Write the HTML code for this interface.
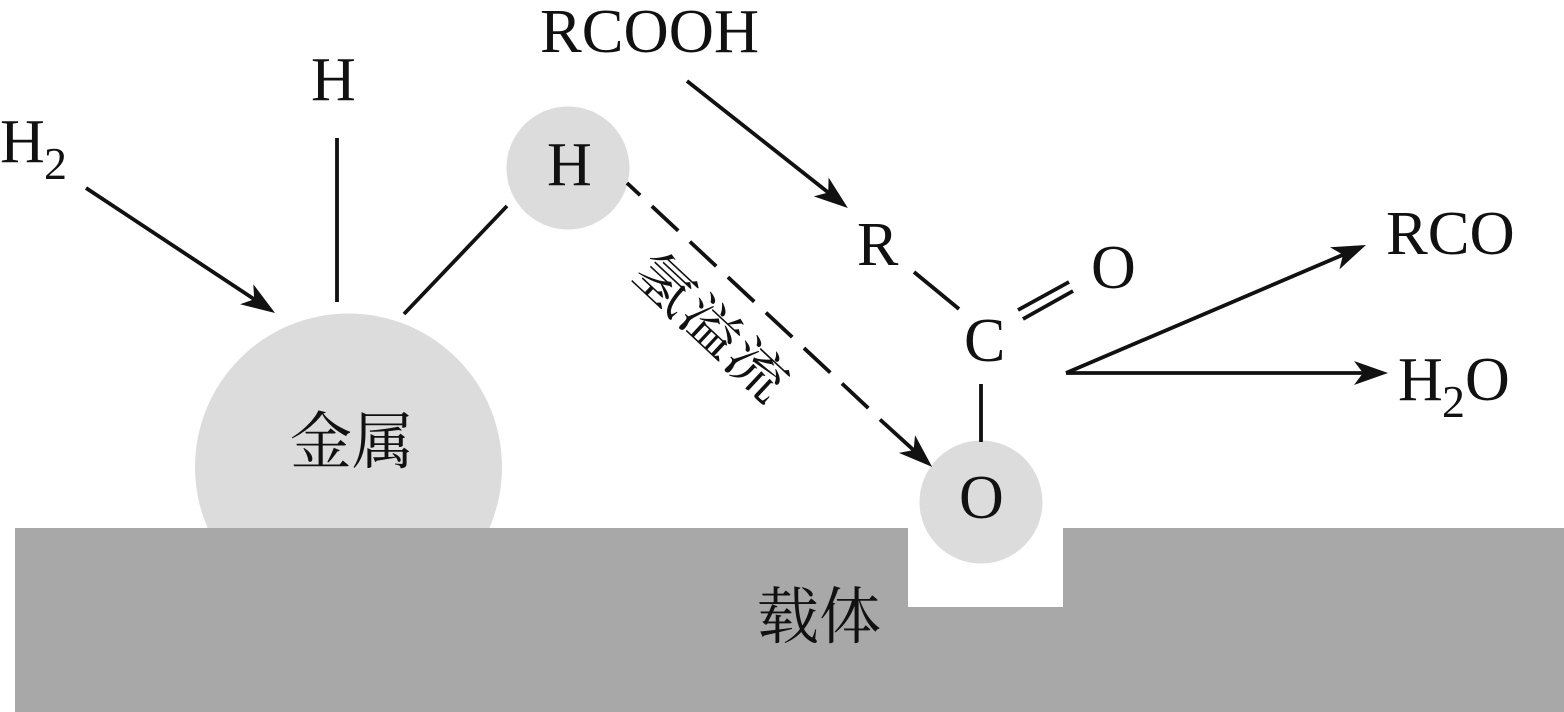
<!DOCTYPE html>
<html><head><meta charset="utf-8"><style>
html,body{margin:0;padding:0;background:#fff}
svg{display:block}
text{font-family:"Liberation Serif","Noto Serif CJK SC",serif;fill:#111}
</style></head><body>
<svg width="1564" height="712" viewBox="0 0 1564 712" xmlns="http://www.w3.org/2000/svg">
<defs>
<marker id="a" markerUnits="userSpaceOnUse" markerWidth="36" markerHeight="26" refX="24" refY="12" orient="auto" viewBox="0 0 36 26"><path d="M0 0L34 12L0 24L9 12Z" fill="#111"/></marker>
</defs>
<rect width="1564" height="712" fill="#fff"/>
<circle cx="348.5" cy="467" r="153.5" fill="#dcdcdc"/>
<circle cx="568" cy="168" r="61.5" fill="#dcdcdc"/>
<path d="M15 528H908V607H1063V528H1564V712H15Z" fill="#a8a8a8"/>
<circle cx="981" cy="502" r="61.5" fill="#dcdcdc"/>
<g stroke="#111" stroke-width="3.8" fill="none">
<line x1="86" y1="188" x2="266.7" y2="307.5" marker-end="url(#a)"/>
<line x1="337" y1="138" x2="337" y2="302"/>
<line x1="507" y1="206" x2="404" y2="314"/>
<line x1="687" y1="81" x2="840" y2="201.8" marker-end="url(#a)"/>
<line x1="914" y1="272" x2="959" y2="309"/>
<line x1="981" y1="384" x2="981" y2="442"/>
<line x1="1018" y1="310" x2="1069" y2="282"/>
<line x1="1023" y1="319" x2="1073" y2="291"/>
<line x1="1066" y1="373" x2="1356.8" y2="248.9" marker-end="url(#a)"/>
<line x1="1066" y1="373" x2="1378" y2="373" marker-end="url(#a)"/>
<line x1="627" y1="183" x2="880" y2="419" stroke-dasharray="36 16" stroke-dashoffset="18"/>
<line x1="880" y1="419.5" x2="924.7" y2="460.2" marker-end="url(#a)"/>
</g>
<g font-size="62">
<text x="0" y="162">H</text>
<text x="44" y="179" font-size="46">2</text>
<text x="311" y="100">H</text>
<text x="540" y="52" font-size="62.6">RCOOH</text>
<text x="547" y="185">H</text>
<text x="857" y="265">R</text>
<text x="1091" y="288">O</text>
<text x="964" y="361">C</text>
<text x="959" y="518">O</text>
<text x="1386" y="254" font-size="62.6">RCO</text>
<text x="1398" y="400">H</text>
<text x="1442" y="417" font-size="46">2</text>
<text x="1465" y="400">O</text>
</g>
<text x="290" y="463" font-size="62">金属</text>
<text x="757" y="638" font-size="62">载体</text>
<text transform="translate(629 276) rotate(43) scale(1 .85)" font-size="63">氢溢流</text>
</svg>
</body></html>
